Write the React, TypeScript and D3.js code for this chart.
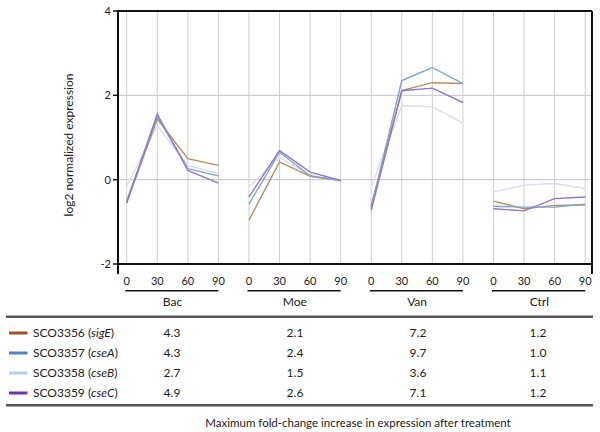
import React from "react";
import * as d3 from "d3";

const groups = ["Bac", "Moe", "Van", "Ctrl"];
const times = ["0", "30", "60", "90"];
const yTicks = [4, 2, 0, -2];

const seriesNames = ["SCO3356", "SCO3357", "SCO3358", "SCO3359"];
const geneNames = ["sigE", "cseA", "cseB", "cseC"];
const lineColors = ["#c08a5e", "#7ea6d2", "#dcdcec", "#9277cc"];
const swatchColors = ["#a3501f", "#4f81c4", "#b8cde6", "#7434a8"];

// values per series: Bac 0..90, Moe 0..90, Van 0..90, Ctrl 0..90
const sigE = [-0.55, 1.44, 0.5, 0.34, -0.96, 0.42, 0.08, -0.02, -0.61, 2.11, 2.3, 2.28, -0.51, -0.69, -0.61, -0.6];
const cseA = [-0.5, 1.5, 0.26, 0.09, -0.58, 0.65, 0.09, -0.02, -0.66, 2.35, 2.66, 2.28, -0.63, -0.65, -0.65, -0.58];
const cseB = [-0.15, 1.28, 0.34, 0.14, -0.17, 0.53, 0.1, -0.02, -0.17, 1.76, 1.73, 1.34, -0.29, -0.13, -0.09, -0.21];
const cseC = [-0.55, 1.56, 0.22, -0.08, -0.41, 0.69, 0.18, -0.02, -0.73, 2.11, 2.17, 1.83, -0.69, -0.74, -0.45, -0.41];
const seriesValues = [sigE, cseA, cseB, cseC];

// Maximum fold-change table: rows = series, cols = groups
const foldSigE = ["4.3", "2.1", "7.2", "1.2"];
const foldCseA = ["4.3", "2.4", "9.7", "1.0"];
const foldCseB = ["2.7", "1.5", "3.6", "1.1"];
const foldCseC = ["4.9", "2.6", "7.1", "1.2"];
const foldTable = [foldSigE, foldCseA, foldCseB, foldCseC];

const caption = "Maximum fold-change increase in expression after treatment";
const yLabel = "log2 normalized expression";

export default function App() {
  const W = 600, H = 432;
  const left = 118, right = 592, top = 11, bottom = 264;
  const nPts = groups.length * times.length;
  const x = d3.scaleLinear().domain([0, nPts - 1]).range([126.7, 585.2]);
  const y = d3.scaleLinear().domain([-2, 4]).range([bottom, top]);

  const font = "Lato, 'Open Sans', sans-serif";
  const colX = [172, 295, 418, 538];
  const rowY = [333, 353, 373, 393];

  return (
    <svg width={W} height={H} style={{ position: "absolute", left: 0, top: 0 }} fontFamily={font}>
      <rect width={W} height={H} fill="#fff" />
      {/* vertical gridlines */}
      {d3.range(nPts).map((i) => (
        <line key={"vg" + i} x1={x(i)} x2={x(i)} y1={top} y2={bottom} stroke="#cfcfcf" strokeWidth={1} />
      ))}
      {/* horizontal gridlines */}
      {yTicks.map((t) => (
        <line key={"hg" + t} x1={left} x2={right} y1={y(t)} y2={y(t)} stroke="#c4c4c4" strokeWidth={1} />
      ))}
      {/* series lines */}
      {[2, 0, 1, 3].map((s) => (
        <g key={"s" + s}>
          {groups.map((g, gi) => {
            const vals = seriesValues[s].slice(gi * 4, gi * 4 + 4);
            const l = d3.line<number>().x((_, i) => x(gi * 4 + i)).y((d) => y(d));
            return <path key={g} d={l(vals) || ""} fill="none" stroke={lineColors[s]} strokeWidth={1.4} />;
          })}
        </g>
      ))}
      {/* frame */}
      <line x1={left} x2={right} y1={top} y2={top} stroke="#111" strokeWidth={2} />
      <line x1={left} x2={right} y1={bottom} y2={bottom} stroke="#111" strokeWidth={2} />
      <line x1={left} x2={left} y1={top} y2={bottom + 10} stroke="#111" strokeWidth={2} />
      <line x1={right} x2={right} y1={top} y2={bottom + 10} stroke="#111" strokeWidth={2} />
      {/* y ticks */}
      {yTicks.map((t) => (
        <g key={"yt" + t}>
          <line x1={left - 5} x2={left} y1={y(t)} y2={y(t)} stroke="#111" strokeWidth={1.5} />
          <text x={left - 7} y={y(t)} dy="0.35em" textAnchor="end" fontSize={11} fill="#222">
            {t}
          </text>
        </g>
      ))}
      <text transform={`translate(73,145) rotate(-90)`} textAnchor="middle" fontSize={12} fill="#222">
        {yLabel}
      </text>
      {/* x tick labels and group labels */}
      {groups.map((g, gi) => (
        <g key={"gl" + g}>
          {times.map((t, ti) => (
            <text key={t} x={x(gi * 4 + ti)} y={281} dy="0.35em" textAnchor="middle" fontSize={11} fill="#222">
              {t}
            </text>
          ))}
          <line x1={x(gi * 4) - 1.5} x2={x(gi * 4 + 3)} y1={290.7} y2={290.7} stroke="#111" strokeWidth={1.5} />
          <text x={(x(gi * 4) + x(gi * 4 + 3)) / 2} y={302} dy="0.35em" textAnchor="middle" fontSize={12} fill="#222">
            {g}
          </text>
        </g>
      ))}
      {/* table */}
      <line x1={6} x2={593} y1={316.7} y2={316.7} stroke="#555" strokeWidth={2.5} />
      <line x1={6} x2={593} y1={405.3} y2={405.3} stroke="#555" strokeWidth={2.5} />
      {seriesNames.map((n, si) => (
        <g key={"row" + n}>
          <line x1={9} x2={27.5} y1={rowY[si]} y2={rowY[si]} stroke={swatchColors[si]} strokeWidth={3} />
          <text x={33} y={rowY[si]} dy="0.35em" fontSize={12} fill="#222">
            {n} (<tspan fontStyle="italic">{geneNames[si]}</tspan>)
          </text>
          {foldTable[si].map((v, ci) => (
            <text key={ci} x={colX[ci]} y={rowY[si]} dy="0.35em" textAnchor="middle" fontSize={12} fill="#222">
              {v}
            </text>
          ))}
        </g>
      ))}
      <text x={358} y={422.7} dy="0.35em" textAnchor="middle" fontSize={11.5} fill="#222">
        {caption}
      </text>
    </svg>
  );
}
